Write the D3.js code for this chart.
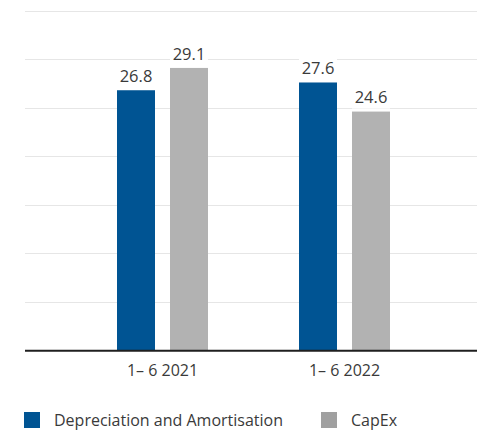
<!DOCTYPE html>
<html>
<head>
<meta charset="utf-8">
<script src="https://cdn.jsdelivr.net/npm/d3@7"></script>
<style>
  html, body { margin: 0; padding: 0; background: #fff; }
  svg { display: block; font-family: "Open Sans", "Noto Sans", sans-serif; }
</style>
</head>
<body>
<svg id="chart" width="477" height="430"></svg>
<script>
// Half-year figures, EUR million
const categories = ["1\u2013 6 2021", "1\u2013 6 2022"];
const seriesNames = ["Depreciation and Amortisation", "CapEx"];
const depreciation = [26.8, 27.6];
const capex = [29.1, 24.6];
const yTicks = [0, 5, 10, 15, 20, 25, 30, 35];

const colors = ["#005493", "#b2b2b2"];
const legendColors = ["#005493", "#a0a0a0"];

const svg = d3.select("#chart");
const plotLeft = 25, plotRight = 477;
const plotTop = 10.7, plotBottom = 350.2;

const y = d3.scaleLinear().domain([0, 35]).range([plotBottom, plotTop]);
const x0 = d3.scaleBand().domain(categories).range([71.5, 435.5]).paddingInner(0).paddingOuter(0);
const x1 = d3.scaleBand().domain(seriesNames).range([-45.5, 45.5]).paddingInner(0.283).paddingOuter(0);

// horizontal gridlines
svg.append("g")
  .selectAll("line")
  .data(yTicks.filter(d => d > 0))
  .join("line")
  .attr("x1", plotLeft).attr("x2", plotRight)
  .attr("y1", d => Math.round(y(d)) + 0.5).attr("y2", d => Math.round(y(d)) + 0.5)
  .attr("stroke", "#e6e6e6").attr("stroke-width", 1);

const rows = categories.map((c, i) => ({
  cat: c,
  values: [
    { key: seriesNames[0], value: depreciation[i], color: colors[0] },
    { key: seriesNames[1], value: capex[i], color: colors[1] }
  ]
}));

const groups = svg.append("g").selectAll("g")
  .data(rows)
  .join("g")
  .attr("transform", d => `translate(${x0(d.cat) + x0.bandwidth() / 2},0)`);

groups.selectAll("rect.bar")
  .data(d => d.values)
  .join("rect")
  .attr("class", "bar")
  .attr("x", d => x1(d.key))
  .attr("width", x1.bandwidth())
  .attr("y", d => y(d.value))
  .attr("height", d => y(0) - y(d.value))
  .attr("fill", d => d.color);

// value labels with white backing
const fmt = d3.format(".1f");
const labels = groups.selectAll("g.lbl")
  .data(d => d.values)
  .join("g")
  .attr("class", "lbl")
  .attr("transform", d => `translate(${x1(d.key) + x1.bandwidth() / 2},${y(d.value) - 14})`);

labels.append("rect")
  .attr("x", -19).attr("y", -11).attr("width", 38).attr("height", 22)
  .attr("fill", "#fff");

labels.append("text")
  .attr("text-anchor", "middle")
  .attr("dy", "0.35em")
  .attr("font-size", 16.5)
  .attr("fill", "#3a3a3a")
  .text(d => fmt(d.value));

// x axis
const xAxis = svg.append("g")
  .attr("transform", `translate(0,${plotBottom})`)
  .call(d3.axisBottom(x0).tickSize(0).tickPadding(14));
xAxis.select(".domain").remove();
xAxis.selectAll("text")
  .attr("font-size", 16)
  .attr("fill", "#3a3a3a")
  .attr("font-family", "'Open Sans', 'Noto Sans', sans-serif");

svg.append("line")
  .attr("x1", plotLeft).attr("x2", plotRight)
  .attr("y1", plotBottom + 0.5).attr("y2", plotBottom + 0.5)
  .attr("stroke", "#1f1f1f").attr("stroke-width", 2);

// legend
const legendX = [24, 321];
const legend = svg.append("g").selectAll("g")
  .data(seriesNames)
  .join("g")
  .attr("transform", (d, i) => `translate(${legendX[i]},412)`);
legend.append("rect")
  .attr("width", 16).attr("height", 16)
  .attr("fill", (d, i) => legendColors[i]);
legend.append("text")
  .attr("x", 30).attr("y", 8).attr("dy", "0.35em")
  .attr("font-size", 16)
  .attr("fill", "#3a3a3a")
  .text(d => d);
</script>
</body>
</html>
